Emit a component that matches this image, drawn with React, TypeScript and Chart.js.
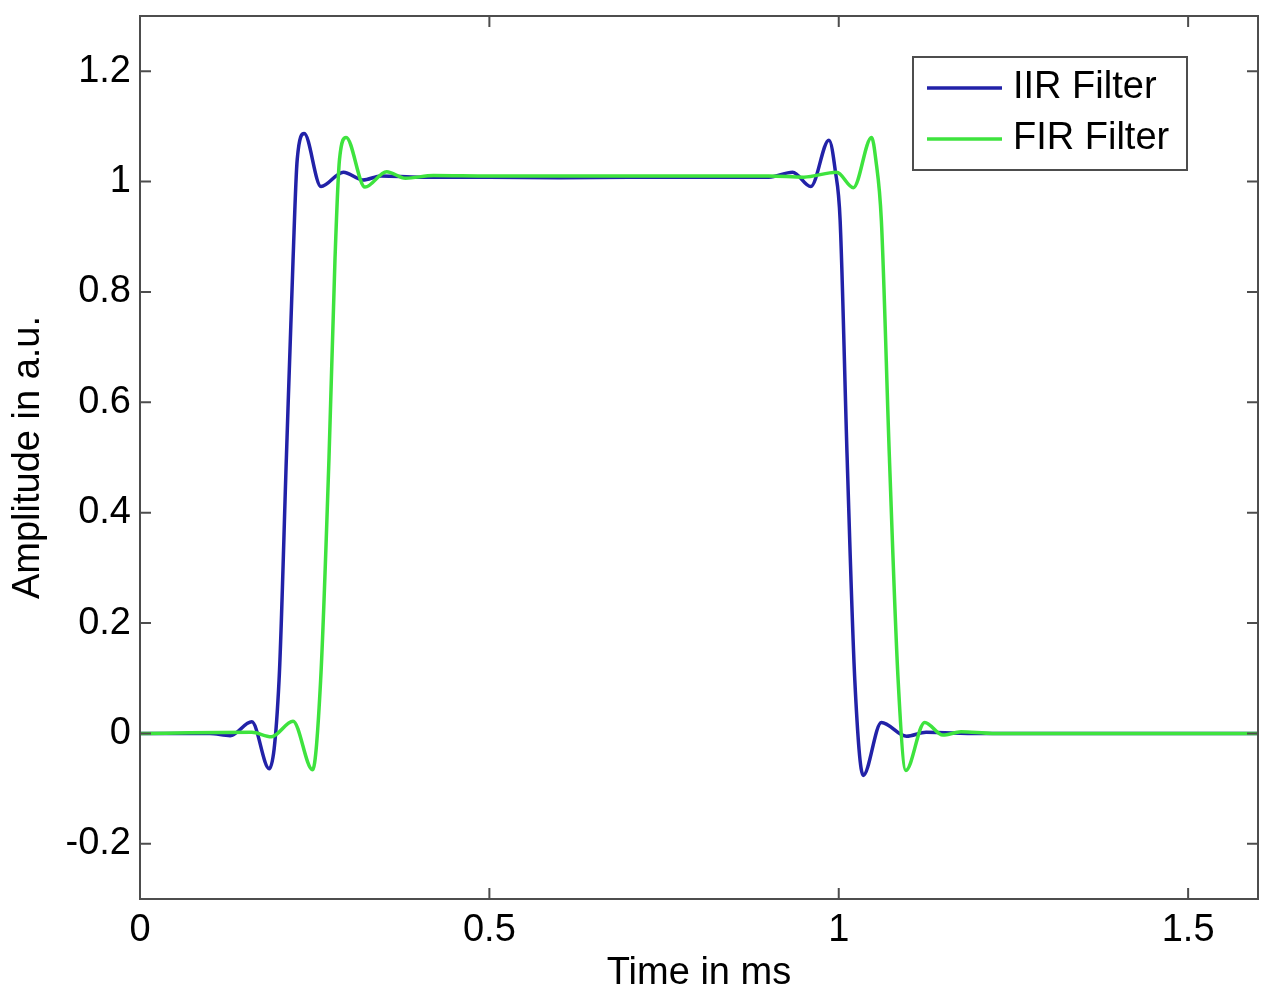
import { useEffect, useRef } from 'react';
import { Chart, registerables } from 'chart.js';

Chart.register(...registerables);

// IIR filter response (time in ms, amplitude in a.u.)
const iirTime = [0, 0.1, 0.129, 0.16, 0.185, 0.199, 0.2095, 0.219, 0.225, 0.235, 0.259, 0.291, 0.319, 0.345, 0.4, 0.5, 0.6, 0.7, 0.8, 0.9, 0.934, 0.96, 0.986, 0.995, 1.002, 1.012, 1.023, 1.035, 1.061, 1.097, 1.125, 1.2, 1.3, 1.4, 1.5, 1.6];
const iirAmp = [0, 0, -0.004, 0.021, -0.064, 0.096, 0.5, 0.857, 1.04, 1.087, 0.991, 1.017, 1.003, 1.01, 1.008, 1.008, 1.007, 1.008, 1.008, 1.008, 1.017, 0.991, 1.075, 1.02, 0.929, 0.5, 0.096, -0.076, 0.02, -0.005, 0.002, 0, 0, 0, 0, 0];

// FIR filter response
const firTime = [0, 0.16, 0.188, 0.219, 0.247, 0.2585, 0.2705, 0.279, 0.2855, 0.295, 0.322, 0.353, 0.38, 0.42, 0.5, 0.6, 0.7, 0.8, 0.9, 0.95, 0.997, 1.021, 1.047, 1.053, 1.061, 1.0725, 1.085, 1.096, 1.123, 1.149, 1.175, 1.22, 1.3, 1.4, 1.5, 1.6];
const firAmp = [0, 0.002, -0.006, 0.022, -0.066, 0.096, 0.5, 0.857, 1.04, 1.08, 0.99, 1.018, 1.006, 1.011, 1.01, 1.01, 1.01, 1.01, 1.01, 1.008, 1.017, 0.989, 1.08, 1.04, 0.929, 0.5, 0.096, -0.067, 0.02, -0.003, 0.003, 0, 0, 0, 0, 0];

const seriesNames = ['IIR Filter', 'FIR Filter'];
const seriesColors = ['#2222a8', '#3ee33e'];

const xTicks = [0, 0.5, 1, 1.5];
const yTicks = [-0.2, 0, 0.2, 0.4, 0.6, 0.8, 1, 1.2];

const FONT = '"Liberation Sans", Arial, Helvetica, sans-serif';
const FONT_SIZE = 38;

// MATLAB style box: frame, inward ticks on all sides, legend in top right
const matlabBox = {
    id: 'matlabBox',
    afterDatasetsDraw(chart: any) {
        const { ctx, chartArea: a, scales } = chart;
        ctx.save();
        ctx.strokeStyle = '#4d4d4d';
        ctx.lineWidth = 2;
        ctx.strokeRect(a.left, a.top, a.right - a.left, a.bottom - a.top);

        const len = 11;
        ctx.beginPath();
        scales.x.ticks.forEach((t: any) => {
            const px = scales.x.getPixelForValue(t.value);
            ctx.moveTo(px, a.bottom);
            ctx.lineTo(px, a.bottom - len);
            ctx.moveTo(px, a.top);
            ctx.lineTo(px, a.top + len);
        });
        scales.y.ticks.forEach((t: any) => {
            const py = scales.y.getPixelForValue(t.value);
            ctx.moveTo(a.left, py);
            ctx.lineTo(a.left + len, py);
            ctx.moveTo(a.right, py);
            ctx.lineTo(a.right - len, py);
        });
        ctx.stroke();

        // legend
        const w = 274;
        const h = 113;
        const lx = a.right - 71 - w;
        const ly = a.top + 41;
        ctx.fillStyle = '#ffffff';
        ctx.fillRect(lx, ly, w, h);
        ctx.strokeRect(lx, ly, w, h);
        ctx.font = `${FONT_SIZE}px ${FONT}`;
        ctx.textBaseline = 'middle';
        ctx.textAlign = 'left';
        chart.data.datasets.forEach((ds: any, i: number) => {
            const yy = ly + 31 + i * 51;
            ctx.strokeStyle = ds.borderColor;
            ctx.lineWidth = 3.5;
            ctx.beginPath();
            ctx.moveTo(lx + 14, yy);
            ctx.lineTo(lx + 89, yy);
            ctx.stroke();
            ctx.fillStyle = '#000000';
            ctx.fillText(ds.label, lx + 100, yy);
        });
        ctx.restore();
    },
};

const App = () => {
    const chartRef = useRef<Chart | null>(null);
    const canvasRef = useRef<HTMLCanvasElement | null>(null);

    useEffect(() => {
        document.body.style.margin = '0';
        if (!canvasRef.current) return;
        if (chartRef.current) chartRef.current.destroy();

        const ctx = canvasRef.current.getContext('2d');
        if (!ctx) return;

        const data = {
            datasets: [
                {
                    label: seriesNames[0],
                    data: iirTime.map((t, i) => ({ x: t, y: iirAmp[i] })),
                    borderColor: seriesColors[0],
                    borderWidth: 3.5,
                    pointRadius: 0,
                    cubicInterpolationMode: 'monotone' as const,
                    fill: false,
                    order: 1,
                },
                {
                    label: seriesNames[1],
                    data: firTime.map((t, i) => ({ x: t, y: firAmp[i] })),
                    borderColor: seriesColors[1],
                    borderWidth: 3.5,
                    pointRadius: 0,
                    cubicInterpolationMode: 'monotone' as const,
                    fill: false,
                    order: 0,
                },
            ],
        };

        const tickFont = { family: FONT, size: FONT_SIZE };

        chartRef.current = new Chart(ctx, {
            type: 'line',
            data,
            options: {
                animation: false,
                responsive: true,
                maintainAspectRatio: false,
                layout: { padding: { top: 16, right: 25, left: 0, bottom: 0 } },
                scales: {
                    x: {
                        type: 'linear',
                        min: 0,
                        max: 1.6,
                        afterBuildTicks: (s: any) => {
                            s.ticks = xTicks.map((v) => ({ value: v }));
                        },
                        afterFit: (s: any) => {
                            s.height = 101;
                            s.paddingLeft = 0;
                            s.paddingRight = 0;
                        },
                        grid: { display: false, drawTicks: false },
                        border: { display: false },
                        ticks: {
                            color: '#000',
                            font: tickFont,
                            padding: 9,
                            maxRotation: 0,
                            callback: (v: any) => String(v),
                        },
                        title: {
                            display: true,
                            text: 'Time in ms',
                            color: '#000',
                            font: tickFont,
                            padding: { top: 0, bottom: 4 },
                        },
                    },
                    y: {
                        type: 'linear',
                        min: -0.3,
                        max: 1.3,
                        afterBuildTicks: (s: any) => {
                            s.ticks = yTicks.map((v) => ({ value: v }));
                        },
                        afterFit: (s: any) => {
                            s.width = 140;
                            s.paddingTop = 0;
                            s.paddingBottom = 0;
                        },
                        grid: { display: false, drawTicks: false },
                        border: { display: false },
                        ticks: {
                            color: '#000',
                            font: tickFont,
                            padding: 9,
                            callback: (v: any) => String(v),
                        },
                        title: {
                            display: true,
                            text: 'Amplitude in a.u.',
                            color: '#000',
                            font: tickFont,
                            padding: { top: 6, bottom: 0 },
                        },
                    },
                },
                plugins: {
                    legend: { display: false },
                    tooltip: { enabled: false },
                },
            },
            plugins: [matlabBox],
        });

        return () => {
            if (chartRef.current) {
                chartRef.current.destroy();
                chartRef.current = null;
            }
        };
    }, []);

    return (
        <div style={{ width: '1283px', height: '1000px', position: 'relative', background: '#fff' }}>
            <canvas ref={canvasRef}></canvas>
        </div>
    );
};

export default App;
